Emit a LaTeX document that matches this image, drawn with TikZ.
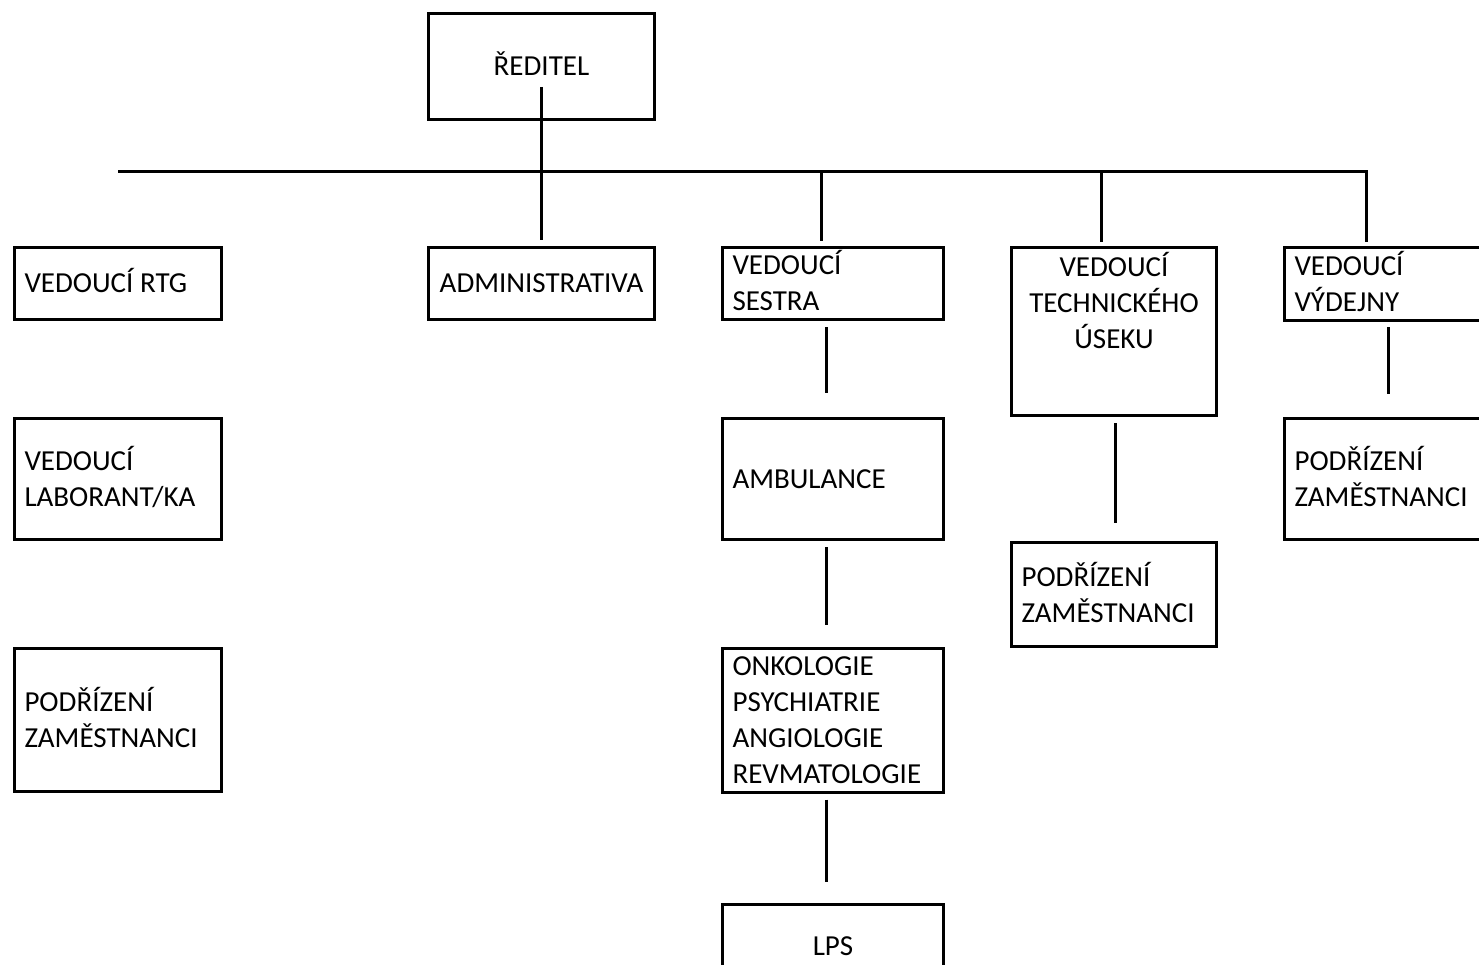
\documentclass[tikz,border=0pt]{standalone}
\usepackage{fontspec}
\setmainfont{Carlito}
\usetikzlibrary{calc}
\newcommand\mystrut{\rule[-8.5pt]{0pt}{36pt}}
\begin{document}
\begin{tikzpicture}[x=1pt,y=-1pt,line width=3pt,
  txt/.style={font=\fontsize{29}{36}\selectfont},
  box/.style={draw, rectangle, inner xsep=10pt, inner ysep=0pt, outer sep=0pt, txt},
  lbox/.style={box, align=flush left},
  cbox/.style={box, align=center}]
\useasboundingbox (0,0) rectangle (1479,965);
\clip (0,0) rectangle (1479,965);
% boxes
\node[cbox, minimum width=226pt, minimum height=106pt] (dir) at (541.5,66.5) {\mystrut ŘEDITEL};
\node[lbox, text width=187pt, minimum height=72pt] (rtg) at (118,283.5) {\mystrut VEDOUCÍ RTG};
\node[lbox, text width=187pt, minimum height=121pt] (lab) at (118,479) {\mystrut VEDOUCÍ\\\mystrut LABORANT/KA};
\node[lbox, text width=187pt, minimum height=143pt] (podL) at (118,720) {\mystrut PODŘÍZENÍ\\\mystrut ZAMĚSTNANCI};
\node[cbox, minimum width=226pt, minimum height=72pt] (adm) at (541.5,283.5) {\mystrut ADMINISTRATIVA};
\node[lbox, text width=201pt, minimum height=72pt] (ses) at (833,283.5) {\mystrut VEDOUCÍ\\\mystrut SESTRA};
\node[lbox, text width=201pt, minimum height=121pt] (amb) at (833,479) {\mystrut AMBULANCE};
\node[lbox, text width=201pt, minimum height=143pt] (onk) at (833,720) {\mystrut ONKOLOGIE\\\mystrut PSYCHIATRIE\\\mystrut ANGIOLOGIE\\\mystrut REVMATOLOGIE};
\node[cbox, minimum width=221pt, minimum height=83pt] (lps) at (833,946) {\mystrut LPS};
\node[box, minimum width=205pt, minimum height=168pt] (tech) at (1114,331.5) {};
\node[txt, align=center, anchor=north, inner sep=0pt] (techtxt) at (tech.north) {\mystrut VEDOUCÍ\\\mystrut TECHNICKÉHO\\\mystrut ÚSEKU};
\node[lbox, text width=185pt, minimum height=104pt] (podT) at (1114,594.5) {\mystrut PODŘÍZENÍ\\\mystrut ZAMĚSTNANCI};
\node[lbox, text width=200pt, minimum height=73pt] (vyd) at (1394.5,284) {\mystrut VEDOUCÍ\\\mystrut VÝDEJNY};
\node[lbox, text width=200pt, minimum height=121pt] (podV) at (1394.5,479) {\mystrut PODŘÍZENÍ\\\mystrut ZAMĚSTNANCI};
% bar
\coordinate (barL) at (118,172);
\coordinate (barR) at (1368,172);
\draw (barL) -- (barR);
% drops from bar
\coordinate (s1) at ([xshift=-12pt]ses.north);
\coordinate (t1) at ([xshift=-13pt]tech.north);
\coordinate (v1) at ([xshift=81.5pt]vyd.north west);
\draw ($(dir.center)+(0,20.5)$) -- ([yshift=7.5pt]adm.north);
\draw (s1 |- barL) -- ([yshift=6.5pt]s1);
\draw (t1 |- barL) -- ([yshift=5.5pt]t1);
\draw (v1 |- barL) -- ([yshift=5.5pt]v1);
% vertical chains
\draw ([xshift=-7pt,yshift=-7.5pt]ses.south) -- ([xshift=-7pt,yshift=25.5pt]amb.north);
\draw ([xshift=-7pt,yshift=-7.5pt]amb.south) -- ([xshift=-7pt,yshift=23pt]onk.north);
\draw ([xshift=-7pt,yshift=-7.5pt]onk.south) -- ([xshift=-7pt,yshift=22.5pt]lps.north);
\draw ([xshift=1pt,yshift=-7.5pt]tech.south) -- ([xshift=1pt,yshift=19.5pt]podT.north);
\draw ([xshift=-6.5pt,yshift=-6.5pt]vyd.south) -- ([xshift=-6.5pt,yshift=24.5pt]podV.north);
\end{tikzpicture}
\end{document}
